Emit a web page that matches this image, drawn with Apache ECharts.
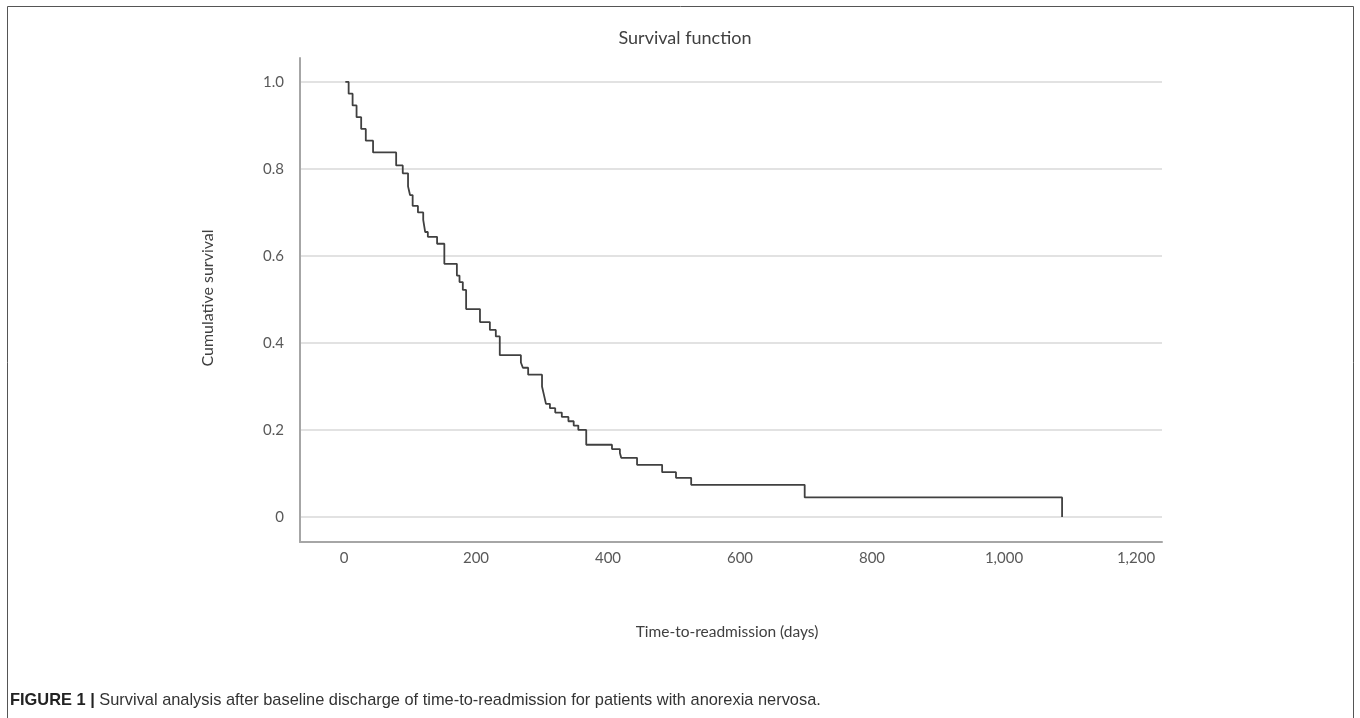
<!DOCTYPE html>
<html>
<head>
<meta charset="utf-8">
<script src="https://cdn.jsdelivr.net/npm/echarts@6/dist/echarts.min.js"></script>
<style>
html,body{margin:0;padding:0;background:#fff;}
#chart{width:1360px;height:718px;}
</style>
</head>
<body>
<div id="chart"></div>
<script>
// Kaplan-Meier step points (days, cumulative survival)
const times = [2, 7, 13, 19, 26, 33, 44, 79, 89, 97, 100, 104, 112, 120, 123, 127, 141, 152, 171, 175, 180, 185, 206, 221, 230, 236, 268, 271, 279, 300, 303, 306, 312, 320, 330, 340, 348, 355, 367, 406, 418, 420, 444, 482, 503, 526, 698, 1088];
const survival = [1.0, 0.973, 0.946, 0.919, 0.892, 0.865, 0.838, 0.808, 0.79, 0.76, 0.74, 0.715, 0.70, 0.683, 0.655, 0.644, 0.628, 0.582, 0.555, 0.54, 0.522, 0.478, 0.448, 0.43, 0.415, 0.372, 0.355, 0.343, 0.327, 0.30, 0.28, 0.26, 0.25, 0.24, 0.23, 0.22, 0.21, 0.20, 0.166, 0.156, 0.147, 0.136, 0.12, 0.103, 0.09, 0.074, 0.045, 0.0];
const xTickValues = [0, 200, 400, 600, 800, 1000, 1200];
const yTickValues = [0, 0.2, 0.4, 0.6, 0.8, 1.0];
const chartTitle = 'Survival function';
const xTitle = 'Time-to-readmission (days)';
const yTitle = 'Cumulative survival';
const captionBold = 'FIGURE 1 |';
const captionText = ' Survival analysis after baseline discharge of time-to-readmission for patients with anorexia nervosa.';

const data = times.map((t, i) => [t, survival[i]]);
const FONT = 'Lato, "Open Sans", sans-serif';
const CAPFONT = '"Liberation Sans", Arial, sans-serif';

const chart = echarts.init(document.getElementById('chart'), null, {renderer: 'canvas'});
chart.setOption({
  animation: false,
  backgroundColor: '#ffffff',
  grid: {left: 300, right: 198, top: 58, bottom: 176, containLabel: false},
  xAxis: {
    type: 'value',
    min: -66.7, max: 1239.4,
    axisLine: {show: true, onZero: false, lineStyle: {color: '#a6a6a6', width: 2}},
    axisTick: {show: false, customValues: xTickValues},
    splitLine: {show: false},
    axisLabel: {
      customValues: xTickValues,
      margin: 9,
      color: '#595959',
      fontSize: 15,
      fontFamily: FONT,
      formatter: v => v.toLocaleString('en-US')
    }
  },
  yAxis: {
    type: 'value',
    min: -0.0575, max: 1.055,
    axisLine: {show: true, onZero: false, lineStyle: {color: '#a6a6a6', width: 2}},
    axisTick: {show: false, customValues: yTickValues},
    splitLine: {show: true, lineStyle: {color: '#d9d9d9', width: 1.5}},
    axisLabel: {
      customValues: yTickValues,
      margin: 16,
      color: '#595959',
      fontSize: 15,
      fontFamily: FONT,
      formatter: v => (Math.abs(v) < 1e-9 ? '0' : v.toFixed(1))
    }
  },
  series: [{
    type: 'line',
    step: 'end',
    data: data,
    symbol: 'none',
    lineStyle: {color: '#404040', width: 1.8},
    z: 5
  }],
  graphic: [
    {type: 'rect', shape: {x: 7.5, y: 6.5, width: 1346, height: 740}, style: {fill: 'none', stroke: '#555555', lineWidth: 1}, silent: true},
    {type: 'text', x: 685, y: 38, style: {text: chartTitle, fill: '#404040', font: '18px ' + FONT, textAlign: 'center', textVerticalAlign: 'middle'}},
    {type: 'text', x: 727, y: 632, style: {text: xTitle, fill: '#404040', font: '15.5px ' + FONT, textAlign: 'center', textVerticalAlign: 'middle'}},
    {type: 'text', x: 208, y: 298, rotation: Math.PI / 2, style: {text: yTitle, fill: '#404040', font: '16px ' + FONT, textAlign: 'center', textVerticalAlign: 'middle'}},
    {type: 'text', x: 10, y: 700, style: {
      text: '{b|' + captionBold + '}' + captionText,
      rich: {b: {fontWeight: 'bold', fontSize: 16.4, fontFamily: CAPFONT, fill: '#222'}},
      font: '16.4px ' + CAPFONT,
      fill: '#333', textVerticalAlign: 'middle'
    }}
  ]
});
</script>
</body>
</html>
